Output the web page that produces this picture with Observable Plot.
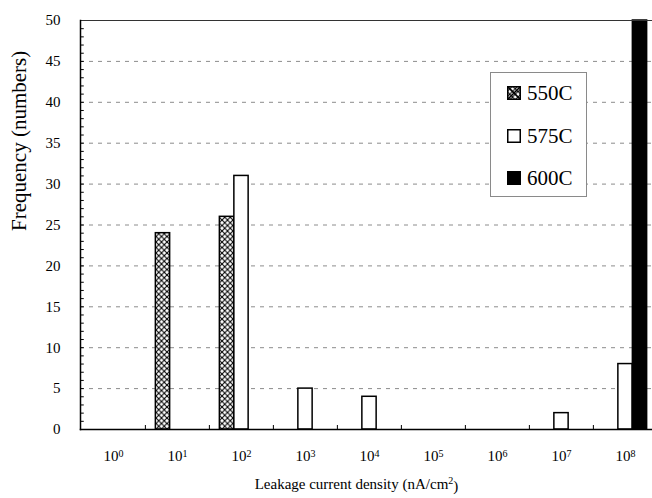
<!DOCTYPE html>
<html>
<head>
<meta charset="utf-8">
<script src="https://cdn.jsdelivr.net/npm/d3@7"></script>
<script src="https://cdn.jsdelivr.net/npm/@observablehq/plot@0.6"></script>
<style>
  body { margin: 0; overflow: hidden; background: #fff; }
  #chart { position: relative; width: 652px; height: 498px; font-family: "Liberation Serif", "Times New Roman", Times, "DejaVu Serif", serif; }
  .legend { position: absolute; left: 490px; top: 72px; width: 97px; height: 125px; box-sizing: border-box;
            border: 1px solid #8a8a8a; background: #fff; }
  .legend .item { position: absolute; left: 16px; height: 24px; display: flex; align-items: center; font-size: 21px; color: #000;
                  font-family: "Liberation Serif", "Times New Roman", Times, "DejaVu Serif", serif; }
  .legend svg { margin-right: 6px; }
  #chart svg text { font-family: "Liberation Serif", "Times New Roman", Times, "DejaVu Serif", serif; }
</style>
</head>
<body>
<div id="chart"></div>
<script>
// Leakage current density bins (powers of ten, nA/cm^2)
const exponents = [0, 1, 2, 3, 4, 5, 6, 7, 8];
const seriesNames = ["550C", "575C", "600C"];
// Frequency (number of devices) per bin for each anneal temperature
const freq550 = [0, 24, 26, 0, 0, 0, 0, 0, 0];
const freq575 = [0, 0, 31, 5, 4, 0, 0, 2, 8];
const freq600 = [0, 0, 0, 0, 0, 0, 0, 0, 50];
const yTicks = [0, 5, 10, 15, 20, 25, 30, 35, 40, 45, 50];
const yMinorTicks = d3.range(1, 50);

const W = 652, H = 498;
const marginLeft = 80, marginRight = -6, marginTop = 20, marginBottom = 69;
const innerH = H - marginTop - marginBottom;
const band = (W - marginRight - marginLeft) / exponents.length;
const barW = 14.5;
const inset = (band - barW) / 2;

const rows = exponents.flatMap((e, i) => [
  {exp: e, series: "550C", value: freq550[i]},
  {exp: e, series: "575C", value: freq575[i]},
  {exp: e, series: "600C", value: freq600[i]}
]).filter(d => d.value > 0);

const styles = {
  "550C": {fill: "url(#xhatch)", dx: -barW},
  "575C": {fill: "white", dx: 0},
  "600C": {fill: "black", dx: barW}
};

const defs = () => {
  const g = d3.create("svg:defs");
  const p = g.append("pattern").attr("id", "xhatch").attr("patternUnits", "userSpaceOnUse")
    .attr("width", 5.5).attr("height", 5.5);
  p.append("rect").attr("width", 5.5).attr("height", 5.5).attr("fill", "white");
  p.append("path").attr("d", "M0,0L5.5,5.5M5.5,0L0,5.5").attr("stroke", "black").attr("stroke-width", 1.1);
  return g.node();
};

const serif = "'Liberation Serif', 'Times New Roman', Times, serif";

const chart = Plot.plot({
  width: W, height: H,
  marginLeft, marginRight, marginTop, marginBottom,
  style: {fontFamily: serif, fontSize: "15px", background: "white", color: "black", overflow: "hidden"},
  x: {type: "band", domain: exponents, padding: 0, label: null, axis: null},
  y: {domain: [0, 50], label: null, axis: null},
  marks: [
    defs,
    Plot.gridY(yTicks.filter(t => t > 0 && t < 50), {stroke: "#8c8c8c", strokeOpacity: 1, strokeDasharray: "4,5"}),
    ...seriesNames.map(s => Plot.barY(rows.filter(d => d.series === s), {
      x: "exp", y: "value",
      fill: styles[s].fill, stroke: "black", strokeWidth: 1.5,
      dx: styles[s].dx, insetLeft: inset, insetRight: inset
    })),
    // minor ticks pointing inward from the left axis
    Plot.tickY(yMinorTicks, {y: d => d, x: () => exponents[0], insetRight: band - 3, stroke: "black", strokeWidth: 1}),
    // category boundary ticks pointing up from the baseline
    Plot.tickX(exponents.slice(1), {x: d => d, dx: -band / 2, insetTop: innerH - 4, stroke: "black", strokeWidth: 1}),
    Plot.axisY(yTicks, {tickSize: 0, tickPadding: 20, fontSize: 15, fontFamily: serif}),
    Plot.axisX({tickSize: 0, tickPadding: 21, fontSize: 15, fontFamily: serif, tickFormat: d => "10^" + d}),
    Plot.frame({anchor: "top", stroke: "#333", strokeWidth: 1}),
    Plot.frame({anchor: "left", stroke: "black", strokeWidth: 1.5}),
    Plot.frame({anchor: "bottom", stroke: "black", strokeWidth: 1.5}),
    Plot.text(["Frequency (numbers)"], {frameAnchor: "left", dx: -61, dy: 6, rotate: -90, fontSize: 21, fontFamily: serif}),
    Plot.text(["Leakage current density (nA/cm^2)"], {frameAnchor: "bottom", dx: -13, dy: 59, fontSize: 15, fontFamily: serif})
  ]
});

// Typeset powers of ten with real superscripts
function superscript(textEl, base, exp, size) {
  const sel = d3.select(textEl);
  sel.text(null);
  sel.append("tspan").text(base);
  sel.append("tspan").attr("dy", "-0.45em").attr("font-size", size).text(exp);
}
d3.select(chart).selectAll('g[aria-label="x-axis tick label"] text').each(function() {
  const [b, e] = this.textContent.split("^");
  if (e !== undefined) superscript(this, b, e, "10px");
});
d3.select(chart).selectAll('g[aria-label="text"] text').each(function() {
  if (this.textContent.includes("cm^2")) {
    const sel = d3.select(this);
    sel.text(null);
    sel.append("tspan").text("Leakage current density (nA/cm");
    sel.append("tspan").attr("dy", "-0.45em").attr("font-size", "10px").text("2");
    sel.append("tspan").attr("dy", "0.45em").text(")");
  }
});

const root = document.getElementById("chart");
root.appendChild(chart);

// Legend
const legend = document.createElement("div");
legend.className = "legend";
const swatch = {
  "550C": `<svg width="14" height="14"><rect x="0.75" y="0.75" width="12.5" height="12.5" fill="url(#xhatch)" stroke="black" stroke-width="1.5"/><path d="M1,1L13,13M13,1L1,13" stroke="black" stroke-width="1.5"/></svg>`,
  "575C": `<svg width="14" height="14"><rect x="0.75" y="0.75" width="12.5" height="12.5" fill="white" stroke="black" stroke-width="1.5"/></svg>`,
  "600C": `<svg width="14" height="14"><rect x="0.75" y="0.75" width="12.5" height="12.5" fill="black" stroke="black" stroke-width="1.5"/></svg>`
};
const rowTop = [8, 51, 93];
seriesNames.forEach((s, i) => {
  const item = document.createElement("div");
  item.className = "item";
  item.style.top = rowTop[i] + "px";
  item.innerHTML = swatch[s] + `<span>${s}</span>`;
  legend.appendChild(item);
});
root.appendChild(legend);
</script>
</body>
</html>
